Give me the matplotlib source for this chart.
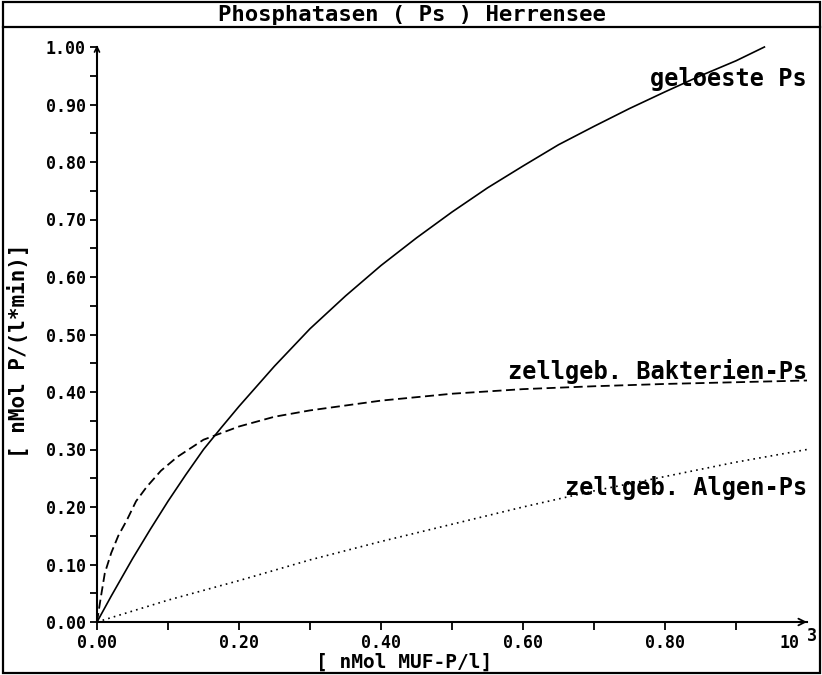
import matplotlib
matplotlib.use("Agg")
import matplotlib.pyplot as plt
from matplotlib.patches import Rectangle
from matplotlib.lines import Line2D

title = "Phosphatasen ( Ps ) Herrensee"
xlabel = "[ nMol MUF-P/l]"
ylabel = "[ nMol P/(l*min)]"

x_ticks = [0.0, 0.2, 0.4, 0.6, 0.8]
x_ticklabels = ["0.00", "0.20", "0.40", "0.60", "0.80"]
y_ticks = [0.0, 0.1, 0.2, 0.3, 0.4, 0.5, 0.6, 0.7, 0.8, 0.9, 1.0]
y_ticklabels = ["0.00", "0.10", "0.20", "0.30", "0.40", "0.50",
                "0.60", "0.70", "0.80", "0.90", "1.00"]

label_geloest = "geloeste Ps"
x_geloest = [0, 0.02, 0.05, 0.075, 0.10, 0.125, 0.15, 0.175, 0.20, 0.25, 0.30, 0.35, 0.40,
             0.45, 0.50, 0.55, 0.60, 0.65, 0.70, 0.75, 0.80, 0.85, 0.90, 0.94]
y_geloest = [0, 0.045, 0.11, 0.161, 0.21, 0.256, 0.30, 0.338, 0.375, 0.445, 0.51, 0.567, 0.62,
             0.668, 0.713, 0.755, 0.793, 0.83, 0.862, 0.893, 0.922, 0.95, 0.976, 1.0]

label_bakt = "zellgeb. Bakterien-Ps"
x_bakt = [0, 0.005, 0.011, 0.02, 0.03, 0.042, 0.055, 0.07, 0.09, 0.113, 0.15, 0.2,
          0.25, 0.3, 0.4, 0.5, 0.6, 0.7, 0.8, 0.9, 1.0]
y_bakt = [0, 0.04, 0.085, 0.12, 0.15, 0.177, 0.21, 0.235, 0.263, 0.287, 0.317, 0.34,
          0.357, 0.368, 0.385, 0.397, 0.405, 0.41, 0.414, 0.417, 0.42]

label_algen = "zellgeb. Algen-Ps"
x_algen = [0, 0.1, 0.2, 0.3, 0.4, 0.5, 0.6, 0.7, 0.8, 0.9, 1.0]
y_algen = [0, 0.038, 0.072, 0.108, 0.14, 0.17, 0.2, 0.228, 0.253, 0.278, 0.30]

W, H = 822, 675
fig = plt.figure(figsize=(W / 100, H / 100), dpi=100)
mono = "DejaVu Sans Mono"

# outer frame and title box
fig.add_artist(Rectangle((3 / W, 2 / H), 817 / W, 671 / H, transform=fig.transFigure,
                         fill=False, lw=1.6, ec="black"))
fig.add_artist(Line2D([3 / W, 820 / W], [1 - 27 / H, 1 - 27 / H], transform=fig.transFigure,
                      lw=1.6, color="black"))
fig.text(412 / W, 1 - 15 / H, title, ha="center", va="center", family=mono,
         fontweight="bold", fontsize=16)

ax = fig.add_axes([97 / W, 53 / H, 710 / W, 575 / H])
ax.set_xlim(0, 1.0)
ax.set_ylim(0, 1.0)
for s in ["top", "right"]:
    ax.spines[s].set_visible(False)
for s in ["left", "bottom"]:
    ax.spines[s].set_linewidth(1.5)

ax.plot(x_geloest, y_geloest, color="black", lw=1.2, ls="-", clip_on=False)
ax.plot(x_bakt, y_bakt, color="black", lw=1.3, ls=(0, (5, 2.5)), clip_on=False)
ax.plot(x_algen, y_algen, color="black", lw=1.2, ls=(0, (1, 2.5)), clip_on=False)

ax.set_xticks([i / 10 for i in range(0, 10)])
ax.set_xticklabels([x_ticklabels[i // 2] if i % 2 == 0 else "" for i in range(0, 10)])
ax.set_yticks(y_ticks)
ax.set_yticklabels(y_ticklabels)
ax.set_yticks([0.05 + i / 10 for i in range(10)], minor=True)
ax.tick_params(axis="both", which="both", direction="out", width=1.3, color="black")
ax.tick_params(axis="x", which="major", length=6, pad=3)
ax.tick_params(axis="y", which="major", length=5, pad=3)
ax.tick_params(axis="y", which="minor", length=5)
for lab in ax.get_xticklabels() + ax.get_yticklabels():
    lab.set_family(mono)
    lab.set_fontweight("bold")
    lab.set_fontsize(12)

# axis arrows
ax.annotate("", xy=(0, 1.008), xytext=(0, 0.98), xycoords="data",
            arrowprops=dict(arrowstyle="->", lw=1.2, color="black", mutation_scale=9),
            annotation_clip=False)
ax.annotate("", xy=(1.004, 0), xytext=(0.98, 0), xycoords="data",
            arrowprops=dict(arrowstyle="->", lw=1.3, color="black", mutation_scale=12),
            annotation_clip=False)

# x multiplier
ax.text(0.99, -0.02, "10", ha="right", va="top", family=mono, fontweight="bold",
        fontsize=12, transform=ax.transData, clip_on=False)
ax.text(1.0, -0.008, "3", ha="left", va="top", family=mono, fontweight="bold",
        fontsize=12, transform=ax.transData, clip_on=False)

fig.text(404 / W, 1 - 662 / H, xlabel, ha="center", va="center", family=mono,
         fontweight="bold", fontsize=14)
fig.text(18 / W, 1 - 351 / H, ylabel, rotation=90, ha="center", va="center",
         family=mono, fontweight="bold", fontsize=15)

# series labels
ax.text(1.0, 0.945, label_geloest, ha="right", va="center", family=mono,
        fontweight="bold", fontsize=17)
ax.text(1.0, 0.435, label_bakt, ha="right", va="center", family=mono,
        fontweight="bold", fontsize=17)
ax.text(1.0, 0.233, label_algen, ha="right", va="center", family=mono,
        fontweight="bold", fontsize=17)

fig.savefig("out.png", dpi=100)
